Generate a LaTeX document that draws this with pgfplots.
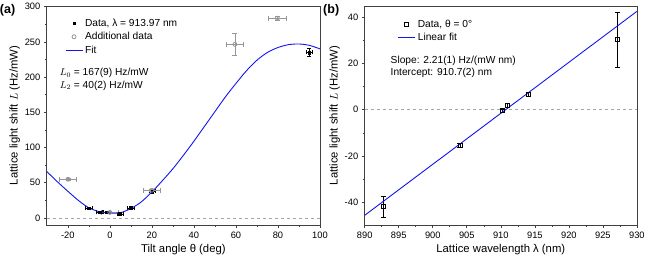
\documentclass[border=0pt]{standalone}
\usepackage{fontspec}
\setmainfont{Liberation Sans}
\usepackage{pgfplots}
\pgfplotsset{compat=1.18}
\definecolor{fitblue}{RGB}{20,20,240}
\definecolor{addgray}{RGB}{150,150,150}
\begin{document}
\begin{tikzpicture}
\pgfplotsset{
  every axis/.append style={
    scale only axis,
    axis line style={line width=0.8pt, black!75},
    tick pos=left, tick align=outside,
    major tick length=3pt, minor tick length=1.8pt,
    every tick/.style={black!75, line width=0.6pt},
    minor tick num=1,
    tick label style={font=\fontsize{9.3}{10}\selectfont},
    label style={font=\fontsize{11.3}{12}\selectfont},
    /pgf/number format/assume math mode=true,
    /pgf/number format/.cd, 1000 sep={},
  },
}
% ---------------- panel (a)
\begin{axis}[at={(0pt,0pt)}, anchor=south west,
  width=273pt, height=219pt,
  xmin=-30, xmax=100, ymin=-10, ymax=301,
  xtick={-20,0,...,100}, ytick={0,50,...,300},
  xlabel={Tilt angle θ (deg)},
  ylabel={Lattice light shift $L$ (Hz/mW)},
  xlabel style={yshift=1pt},
  ylabel style={yshift=-2pt},
  legend style={draw=none, fill=none, at={(0.055,0.96)}, anchor=north west,
    font=\fontsize{10.2}{11}\selectfont, row sep=0.5pt},
  legend cell align=left,
]
\addplot[gray!70, dashed, line width=0.6pt, forget plot] coordinates {(-30,0) (100,0)};
\addplot[only marks, mark=square*, mark size=1.3pt, black,
  error bars/.cd, x dir=both, x explicit, y dir=both, y explicit,
  error mark options={rotate=90, mark size=2pt, line width=0.6pt}]
  coordinates {
  (-10,13.7) +- (1.5,2)
  (-4.9,8) +- (1.5,2)
  (-1.6,8) +- (1.5,2)
  (4.8,6) +- (1.5,2)
  (10,14) +- (1.5,2)
  (20.2,38) +- (1.5,2.5)
  (94.8,235) +- (1.5,6)
  };
\addlegendentry{Data, λ = 913.97 nm}
\addplot[only marks, mark=o, mark size=2pt, addgray, thick,
  error bars/.cd, x dir=both, x explicit, y dir=both, y explicit,
  error mark options={rotate=90, mark size=2.5pt, addgray, line width=0.6pt}]
  coordinates {
  (-19.9,55) +- (4.1,1.5)
  (0,8) +- (4.1,1.5)
  (20,39.5) +- (4.1,1.5)
  (59.5,246.5) +- (4.1,15.5)
  (79.7,283.6) +- (4.1,3)
  };
\addlegendentry{Additional data}
\addplot[fitblue, line width=0.9pt, smooth] coordinates {
  (-30,66) (-25,51.5) (-20,38) (-15,25) (-10,14.5) (-5,9) (0,7) (3,6.8) (5,7.3)
  (10,13.5) (15,23) (20,37) (25,53) (30,70) (35,89) (40,109) (45,130) (50,151)
  (55,172) (60,191) (65,209) (70,224) (75,235) (80,242) (85,246) (90,247)
  (95,245) (100,240)};
\addlegendentry{Fit}
\node[anchor=west, font=\fontsize{10.2}{11}\selectfont, align=left] at (axis cs:-25.5,197)
  {$L_0$ = 167(9) Hz/mW\\[1.5pt] $L_2$ = 40(2) Hz/mW};
\end{axis}
\node[anchor=north west, font=\bfseries\fontsize{12.5}{13}\selectfont, inner sep=0pt] at (-47pt,221pt) {(a)};
% ---------------- panel (b)
\begin{axis}[at={(317.7pt,0pt)}, anchor=south west,
  width=272pt, height=219pt,
  xmin=890, xmax=930, ymin=-50, ymax=45,
  xtick={890,895,...,930}, ytick={-40,-20,0,20,40},
  xlabel={Lattice wavelength λ (nm)},
  ylabel={Lattice light shift $L$ (Hz/mW)},
  xlabel style={yshift=1pt},
  ylabel style={yshift=-2pt},
  legend style={draw=none, fill=none, at={(0.11,0.955)}, anchor=north west,
    font=\fontsize{10.2}{11}\selectfont, row sep=0.5pt},
  legend cell align=left,
]
\addplot[gray!70, dashed, line width=0.6pt, forget plot] coordinates {(890,0) (930,0)};
\addplot[only marks, mark=square, mark size=2pt, black, thick,
  error bars/.cd, y dir=both, y explicit,
  error mark options={rotate=90, mark size=2.5pt, line width=0.6pt}]
  coordinates {
  (892.7,-42) +- (0,4.5)
  (904.0,-15.4) +- (0,0.8)
  (910.2,-0.5) +- (0,0.6)
  (911.0,1.8) +- (0,0.8)
  (914.0,6.8) +- (0,0.8)
  (927.1,30.4) +- (0,11.9)
  };
\addlegendentry{Data, θ = 0°}
\addplot[fitblue, line width=0.9pt] coordinates {(890,-45.75) (930,42.65)};
\addlegendentry{Linear fit}
\node[anchor=west, font=\fontsize{10.2}{11}\selectfont, align=left] at (axis cs:893.3,18.5)
  {Slope: 2.21(1) Hz/(mW nm)\\[1.5pt] Intercept: 910.7(2) nm};
\end{axis}
\node[anchor=north west, font=\bfseries\fontsize{12.5}{13}\selectfont, inner sep=0pt] at (276pt,221pt) {(b)};
\end{tikzpicture}
\end{document}
